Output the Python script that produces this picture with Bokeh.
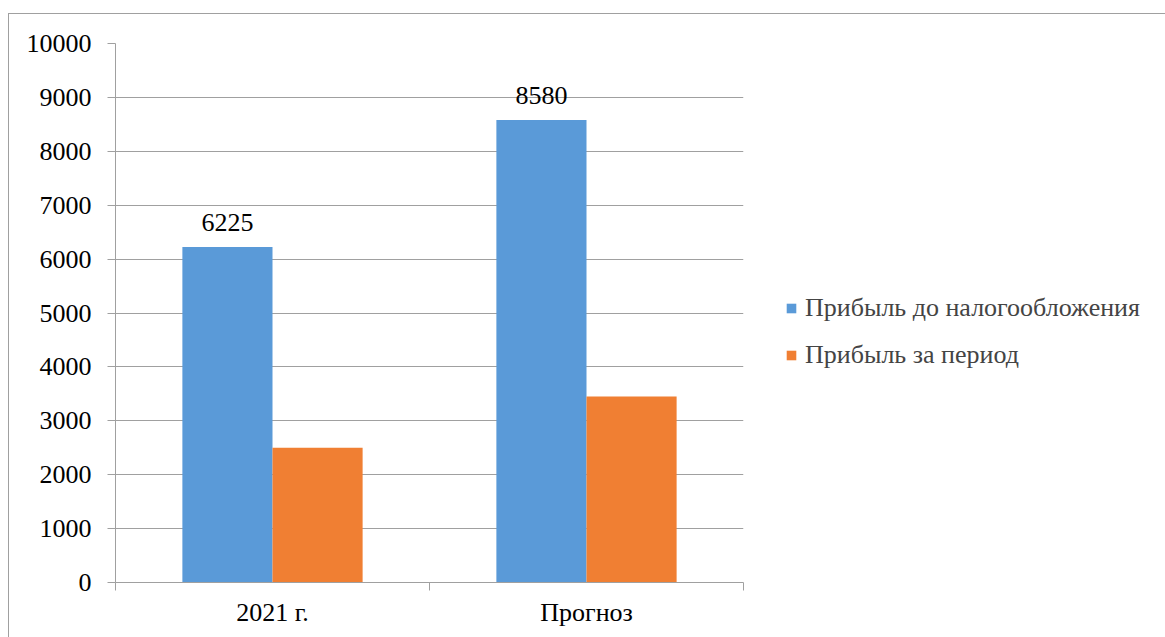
from bokeh.plotting import figure
from bokeh.models import FixedTicker, Legend, LegendItem, Range1d
from bokeh.embed import file_html
from bokeh.resources import INLINE
from bokeh.core.properties import value
import numpy as np

categories = ["2021 г.", "Прогноз"]
series_names = ["Прибыль до налогообложения", "Прибыль за период"]
profit_before_tax = [6225, 8580]
profit_period = [2500, 3450]
y_ticks = [0, 1000, 2000, 3000, 4000, 5000, 6000, 7000, 8000, 9000, 10000]

FONT = "Liberation Serif"
FS = "26px"
GRID = "#a0a0a0"
BLUE = "#5a9ad8"
ORANGE = "#f07f33"

n = len(categories)
centers = np.arange(n) + 0.5
bar_w = 0.287
x_blue = centers - bar_w / 2
x_orange = centers + bar_w / 2

p = figure(frame_width=628, frame_height=539,
           x_range=Range1d(0, n), y_range=Range1d(y_ticks[0], y_ticks[-1]),
           output_backend="svg", toolbar_location=None,
           min_border_left=106, min_border_right=0,
           min_border_top=29, min_border_bottom=55)
p.outline_line_color = None
p.background_fill_color = "white"
p.border_fill_color = "white"

r1 = p.vbar(x=x_blue, top=profit_before_tax, bottom=0, width=bar_w,
            fill_color=BLUE, line_color=None)
r2 = p.vbar(x=x_orange, top=profit_period, bottom=0, width=bar_w,
            fill_color=ORANGE, line_color=None)

p.text(x=x_blue, y=profit_before_tax, text=[str(v) for v in profit_before_tax],
       text_align="center", text_baseline="bottom", y_offset=-16,
       text_font=value(FONT), text_font_size=FS, text_color="black")

# x axis
p.xaxis.ticker = FixedTicker(ticks=list(centers), minor_ticks=list(range(n + 1)))
p.xaxis.major_label_overrides = {float(c): cat for c, cat in zip(centers, categories)}
p.xaxis.major_tick_out = 0
p.xaxis.major_tick_in = 0
p.xaxis.minor_tick_out = 8
p.xaxis.minor_tick_in = 0
p.xaxis.minor_tick_line_color = GRID
p.xaxis.axis_line_color = GRID
p.xaxis.major_label_standoff = 7
p.xaxis.major_label_text_font = FONT
p.xaxis.major_label_text_font_size = FS
p.xaxis.major_label_text_color = "black"

# y axis
p.yaxis.ticker = FixedTicker(ticks=y_ticks)
p.yaxis.major_tick_out = 8
p.yaxis.major_tick_in = 0
p.yaxis.minor_tick_out = 0
p.yaxis.minor_tick_in = 0
p.yaxis.major_tick_line_color = GRID
p.yaxis.axis_line_color = GRID
p.yaxis.major_label_standoff = 16
p.yaxis.major_label_text_font = FONT
p.yaxis.major_label_text_font_size = FS
p.yaxis.major_label_text_color = "black"

p.xgrid.visible = False
p.ygrid.grid_line_color = GRID
p.ygrid.grid_line_width = 1

legend = Legend(items=[LegendItem(label=series_names[0], renderers=[r1]),
                       LegendItem(label=series_names[1], renderers=[r2])],
                location=(42, 212), glyph_width=12, glyph_height=12,
                label_text_font=FONT, label_text_font_size=FS,
                label_standoff=8, spacing=17, padding=0, margin=0,
                label_height=30, border_line_color=None,
                background_fill_alpha=0)
p.add_layout(legend, "right")

p.styles = {"border-left": "1px solid #a0a0a0", "border-top": "1px solid #a0a0a0",
            "margin-top": "13px", "margin-left": "8px"}

open("out.html", "w").write(file_html(p, INLINE))
